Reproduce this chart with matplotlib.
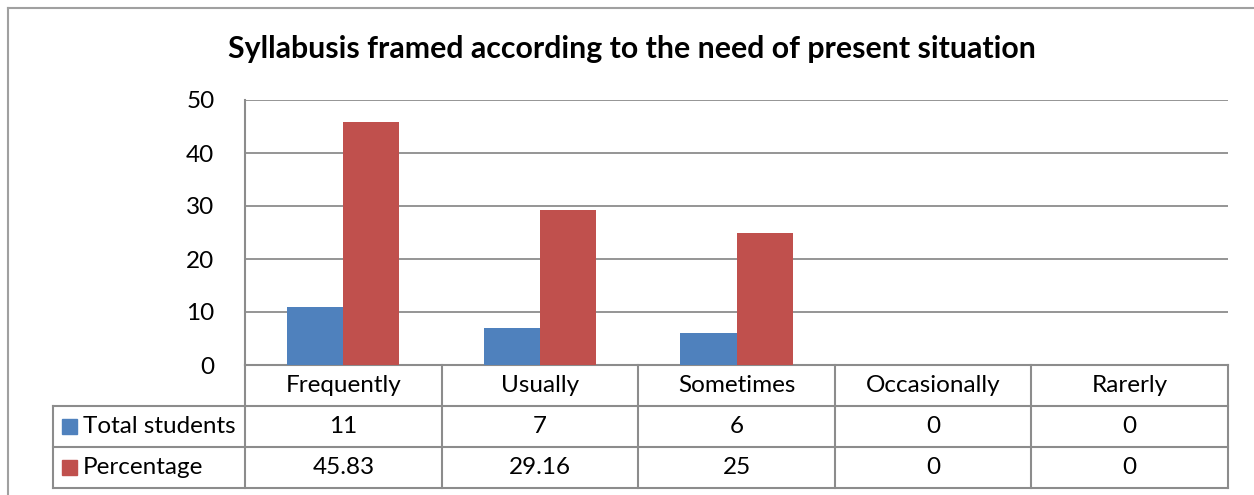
import matplotlib
matplotlib.use("Agg")
import matplotlib.pyplot as plt
from matplotlib.patches import Rectangle
from matplotlib.lines import Line2D
import numpy as np

plt.rcParams['font.family'] = ['Lato', 'DejaVu Sans']

title = "Syllabusis framed according to the need of present situation"
categories = ["Frequently", "Usually", "Sometimes", "Occasionally", "Rarerly"]
series_names = ["Total students", "Percentage"]
total_students = [11, 7, 6, 0, 0]
percentage = [45.83, 29.16, 25, 0, 0]
total_labels = ["11", "7", "6", "0", "0"]
percentage_labels = ["45.83", "29.16", "25", "0", "0"]
yticks = [0, 10, 20, 30, 40, 50]

colors = ["#4F81BD", "#C0504D"]
grid_color = "#8C8C8C"
FS = 17.5

W, H = 1254, 495
fig = plt.figure(figsize=(W / 100, H / 100), dpi=100)

L, R, T, B = 245, 1228, 100, 365
ax = fig.add_axes([L / W, 1 - B / H, (R - L) / W, (B - T) / H])

x = np.arange(len(categories))
bw = 0.285
ax.bar(x - bw / 2, total_students, bw, color=colors[0], zorder=3)
ax.bar(x + bw / 2, percentage, bw, color=colors[1], zorder=3)

ax.set_xlim(-0.5, len(categories) - 0.5)
ax.set_ylim(0, 50)
ax.set_yticks(yticks)
ax.set_yticklabels([str(v) for v in yticks], fontsize=FS)
ax.tick_params(axis='y', length=0, pad=22)
ax.set_xticks([])
for s in ["top", "right", "bottom"]:
    ax.spines[s].set_visible(False)
ax.spines["left"].set_color(grid_color)
ax.spines["left"].set_linewidth(1.5)
ax.yaxis.grid(True, color=grid_color, linewidth=1.3, zorder=0)
ax.set_axisbelow(True)

# Title
fig.text(632 / W, 1 - 49 / H, title, ha="center", va="center",
         fontsize=21.8, fontweight="bold")

# Data table (axes fraction coordinates)
ph = B - T
row_h = 41 / ph
n = len(categories)
tr = ax.transAxes
lab_left = (53 - L) / (R - L)
lkw = dict(color=grid_color, linewidth=1.5, transform=tr, clip_on=False)

ax.add_line(Line2D([0, 1], [0, 0], **lkw))
for k in range(1, 4):
    ax.add_line(Line2D([lab_left, 1], [-k * row_h, -k * row_h], **lkw))
ax.add_line(Line2D([lab_left, lab_left], [-row_h, -3 * row_h], **lkw))
for i in range(n + 1):
    ax.add_line(Line2D([i / n, i / n], [0, -3 * row_h], **lkw))

for i, c in enumerate(categories):
    ax.text((i + 0.5) / n, -0.5 * row_h, c, transform=tr, ha="center",
            va="center", fontsize=FS)
rows = [total_labels, percentage_labels]
for r, (name, vals) in enumerate(zip(series_names, rows)):
    yc = -(r + 1.5) * row_h
    for i, v in enumerate(vals):
        ax.text((i + 0.5) / n, yc, v, transform=tr, ha="center",
                va="center", fontsize=FS)
    sq = 15 / (R - L)
    sqh = 15 / ph
    ax.add_patch(Rectangle((lab_left + 9 / (R - L), yc - sqh / 2), sq, sqh,
                           color=colors[r], transform=tr, clip_on=False))
    ax.text(lab_left + 30 / (R - L), yc, name, transform=tr, ha="left",
            va="center", fontsize=FS)

# outer chart border (right and bottom sides are outside the image)
fig.add_artist(Line2D([8 / W, 8 / W], [0, 1 - 8 / H], transform=fig.transFigure,
                      color="#A0A0A0", linewidth=1.5))
fig.add_artist(Line2D([8 / W, 1], [1 - 8 / H, 1 - 8 / H], transform=fig.transFigure,
                      color="#A0A0A0", linewidth=1.5))

fig.savefig("out.png", dpi=100)
